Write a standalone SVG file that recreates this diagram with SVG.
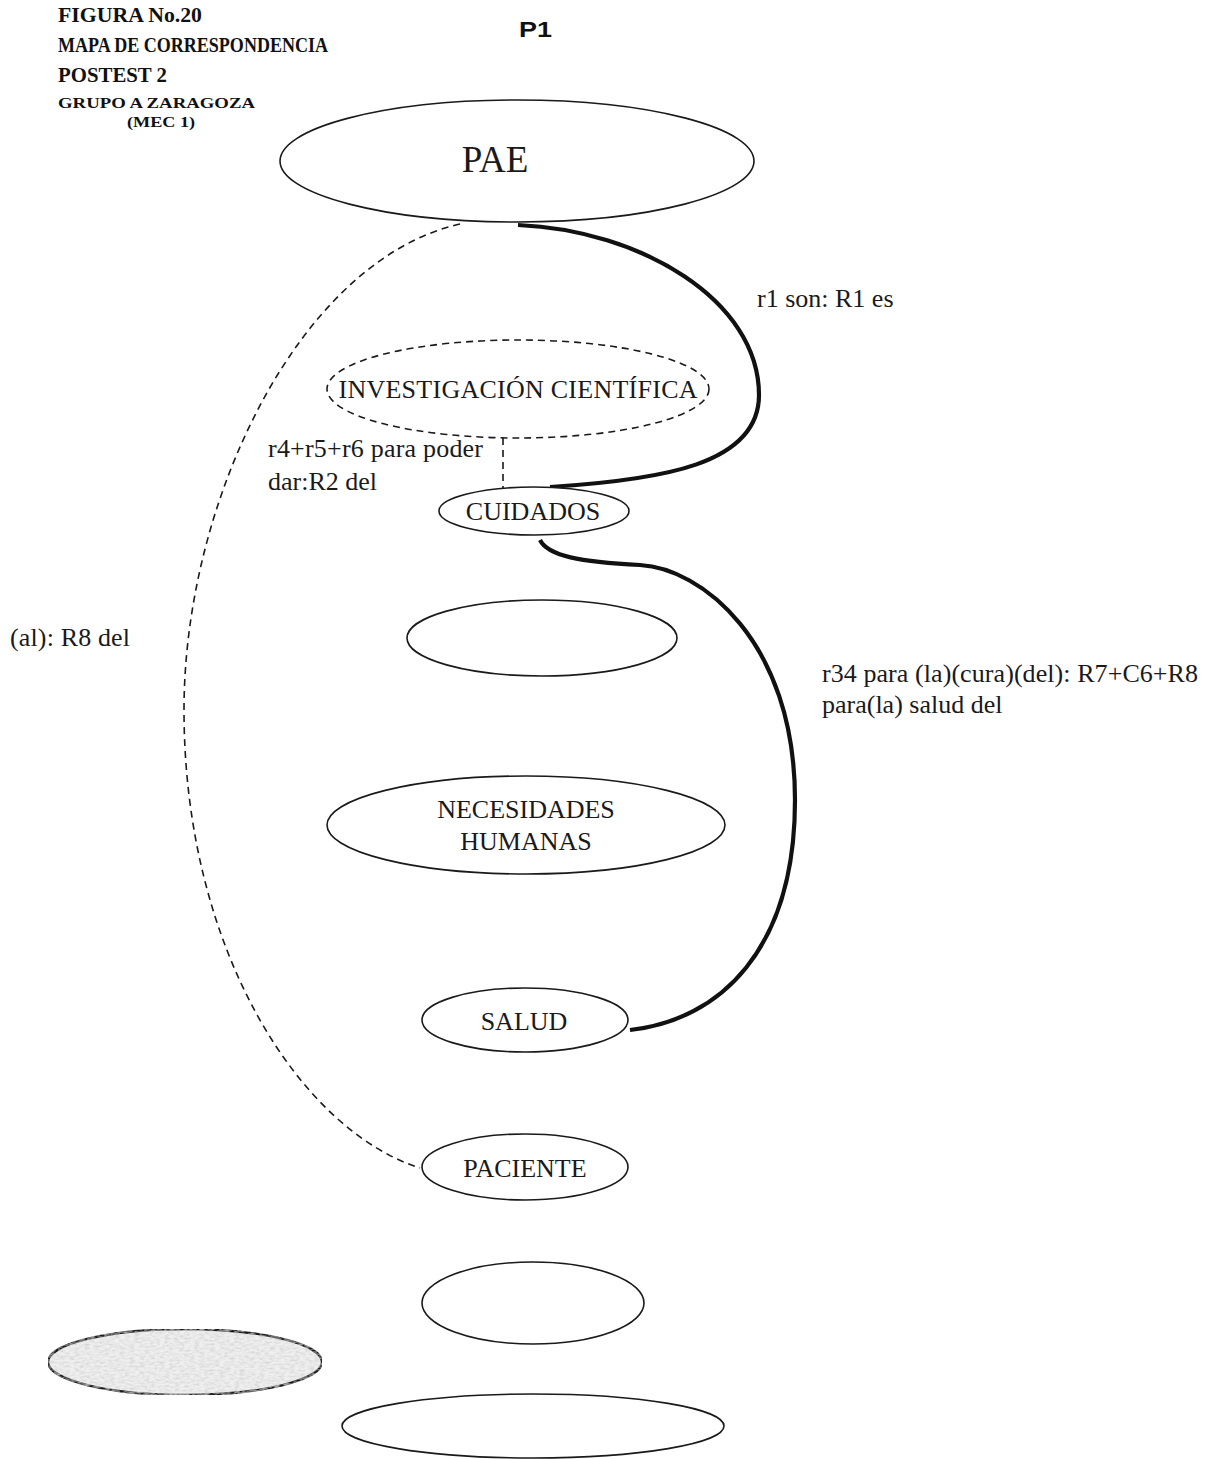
<svg xmlns="http://www.w3.org/2000/svg" width="1206" height="1459" viewBox="0 0 1206 1459">
  <style>
    .node { fill: #fff; stroke: #1a1a1a; stroke-width: 1.6; }
    .dash { fill: none; stroke: #1a1a1a; stroke-width: 1.6; stroke-dasharray: 7 5; }
    .thick { fill: none; stroke: #111; stroke-width: 4.2; }
    .lbl { font-family: "Liberation Serif", "Times New Roman", serif; fill: #1a1a1a; font-size: 26px; }
    .hdr { font-family: "Liberation Serif", "Times New Roman", serif; font-weight: bold; fill: #111; }
  </style>
  <defs>
    <filter id="grain" x="0" y="0" width="100%" height="100%">
      <feTurbulence type="fractalNoise" baseFrequency="0.2 0.5" numOctaves="2" seed="4" result="n"/>
      <feColorMatrix in="n" type="matrix" values="0 0 0 0 0.6  0 0 0 0 0.6  0 0 0 0 0.6  0 0 0 1.5 -0.55" result="g"/>
      <feComposite in="g" in2="SourceGraphic" operator="in" result="gc"/>
      <feMerge><feMergeNode in="SourceGraphic"/><feMergeNode in="gc"/></feMerge>
    </filter>
  </defs>

  <!-- title block -->
  <g id="title">
    <text class="hdr" x="58" y="22" font-size="22" textLength="144" lengthAdjust="spacingAndGlyphs">FIGURA No.20</text>
    <text class="hdr" x="58" y="52" font-size="22" textLength="270" lengthAdjust="spacingAndGlyphs">MAPA DE CORRESPONDENCIA</text>
    <text class="hdr" x="58" y="82" font-size="22" textLength="109" lengthAdjust="spacingAndGlyphs">POSTEST 2</text>
    <text class="hdr" x="58" y="108" font-size="15" textLength="197" lengthAdjust="spacingAndGlyphs">GRUPO A  ZARAGOZA</text>
    <text class="hdr" x="127" y="127" font-size="15" textLength="68" lengthAdjust="spacingAndGlyphs">(MEC 1)</text>
    <text x="519" y="37" font-family="Liberation Sans, Arial, sans-serif" font-weight="bold" font-size="22" fill="#111" textLength="33" lengthAdjust="spacingAndGlyphs">P1</text>
  </g>

  <!-- connectors -->
  <g id="connectors">
    <path class="dash" d="M460,224 C300,260 184,500 184,710 C184,950 300,1130 420,1168"/>
    <path class="thick" d="M518,225 C640,230 759,300 759,395 C759,465 660,480 550,487"/>
    <line class="dash" x1="503" y1="438" x2="503" y2="490"/>
    <path class="thick" d="M540,540 C548,556 580,562 640,565 C700,568 795,640 795,800 C795,950 720,1020 630,1030"/>
  </g>

  <!-- connector labels -->
  <g id="labels">
    <text class="lbl" x="757" y="307">r1 son: R1 es</text>
    <text class="lbl" x="268" y="457" textLength="215" lengthAdjust="spacing">r4+r5+r6 para poder</text>
    <text class="lbl" x="268" y="490">dar:R2 del</text>
    <text class="lbl" x="10" y="646" textLength="120" lengthAdjust="spacing">(al): R8 del</text>
    <text class="lbl" x="822" y="682" textLength="376" lengthAdjust="spacing">r34 para (la)(cura)(del): R7+C6+R8</text>
    <text class="lbl" x="822" y="713">para(la) salud del</text>
  </g>

  <!-- nodes -->
  <g id="node-pae">
    <ellipse class="node" cx="517" cy="161" rx="237" ry="61"/>
    <text class="lbl" x="495" y="172" style="font-size:37px" text-anchor="middle">PAE</text>
  </g>
  <g id="node-investigacion">
    <ellipse cx="518" cy="389" rx="191" ry="49" fill="#fff" class="dash"/>
    <text class="lbl" x="518" y="398" text-anchor="middle" textLength="359" lengthAdjust="spacing">INVESTIGACIÓN CIENTÍFICA</text>
  </g>
  <g id="node-cuidados">
    <ellipse class="node" cx="534" cy="511" rx="95" ry="24"/>
    <text class="lbl" x="533" y="520" text-anchor="middle">CUIDADOS</text>
  </g>
  <g id="node-empty-1">
    <ellipse class="node" cx="542" cy="638" rx="135" ry="38"/>
  </g>
  <g id="node-necesidades">
    <ellipse class="node" cx="526" cy="825" rx="199" ry="49"/>
    <text class="lbl" x="526" y="818" text-anchor="middle">NECESIDADES</text>
    <text class="lbl" x="526" y="850" text-anchor="middle">HUMANAS</text>
  </g>
  <g id="node-salud">
    <ellipse class="node" cx="525" cy="1020" rx="103" ry="32"/>
    <text class="lbl" x="524" y="1030" text-anchor="middle">SALUD</text>
  </g>
  <g id="node-paciente">
    <ellipse class="node" cx="525" cy="1167" rx="103" ry="33"/>
    <text class="lbl" x="525" y="1177" text-anchor="middle">PACIENTE</text>
  </g>
  <g id="node-empty-2">
    <ellipse class="node" cx="533" cy="1303" rx="111" ry="41"/>
  </g>
  <g id="node-shaded">
    <ellipse cx="185" cy="1362" rx="137" ry="33" fill="#efefef" stroke="#1a1a1a" stroke-width="2.4" filter="url(#grain)"/>
  </g>
  <g id="node-empty-3">
    <ellipse class="node" cx="533" cy="1426" rx="191" ry="32"/>
  </g>
</svg>
